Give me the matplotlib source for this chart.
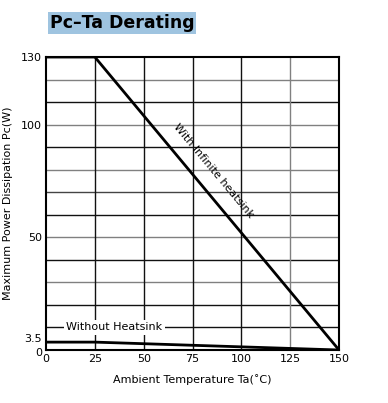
import matplotlib.pyplot as plt
from matplotlib.transforms import ScaledTranslation

plt.rcParams['font.family'] = ['DejaVu Sans']

# data
ta_infinite = [0, 25, 150]
pc_infinite = [130, 130, 0]
ta_none = [0, 25, 150]
pc_none = [3.5, 3.5, 0]

xticks = [0, 25, 50, 75, 100, 125, 150]
yticks = [0, 3.5, 50, 100, 130]
ytick_labels = ['0', '3.5', '50', '100', '130']
hgrid = [10, 20, 30, 40, 50, 60, 70, 80, 90, 100, 110, 120]
hgrid_colors = ['#111111', '#111111', '#808080', '#111111', '#808080', '#111111',
                '#444444', '#808080', '#111111', '#808080', '#111111', '#808080']
vgrid = [25, 50, 75, 100, 125]
vgrid_colors = ['#111111', '#111111', '#111111', '#111111', '#808080']

fig = plt.figure(figsize=(3.88, 4.03), dpi=100)
ax = fig.add_axes([0.1186, 0.1315, 0.7552, 0.727])

for y, c in zip(hgrid, hgrid_colors):
    ax.axhline(y, color=c, lw=1.0, zorder=1)
for x, c in zip(vgrid, vgrid_colors):
    ax.axvline(x, color=c, lw=1.0, zorder=1)

ax.plot(ta_infinite, pc_infinite, color='black', lw=2, zorder=3)
ax.plot(ta_none, pc_none, color='black', lw=2, zorder=3)

ax.set_xlim(0, 150)
ax.set_ylim(0, 130)
ax.set_xticks(xticks)
ax.set_yticks(yticks)
ax.set_yticklabels(ytick_labels)
ax.tick_params(length=0, labelsize=8, pad=3)
for s in ax.spines.values():
    s.set_linewidth(1.5)

# pull the 3.5 and 0 labels apart a little, like the original
labels = ax.get_yticklabels()
labels[1].set_transform(labels[1].get_transform() + ScaledTranslation(0, 3 / 72, fig.dpi_scale_trans))
labels[0].set_transform(labels[0].get_transform() + ScaledTranslation(0, -1.5 / 72, fig.dpi_scale_trans))

ax.set_xlabel('Ambient Temperature Ta(˚C)', fontsize=8, labelpad=7)
ax.set_ylabel('Maximum Power Dissipation Pc(W)', fontsize=8, labelpad=6)

ax.text(35, 10, 'Without Heatsink', fontsize=8, ha='center', va='center',
        bbox=dict(facecolor='white', edgecolor='none', pad=2), zorder=4)
ax.text(85.5, 79.5, 'With Infinite heatsink', fontsize=8, ha='center', va='center',
        rotation=-50.2, rotation_mode='anchor', zorder=4)

fig.text(0.128, 0.943, 'Pc–Ta Derating', fontsize=12.5, fontweight='bold',
         ha='left', va='center',
         bbox=dict(facecolor='#9fc4e0', edgecolor='none', pad=1.5))

fig.savefig('out.png', dpi=100)
